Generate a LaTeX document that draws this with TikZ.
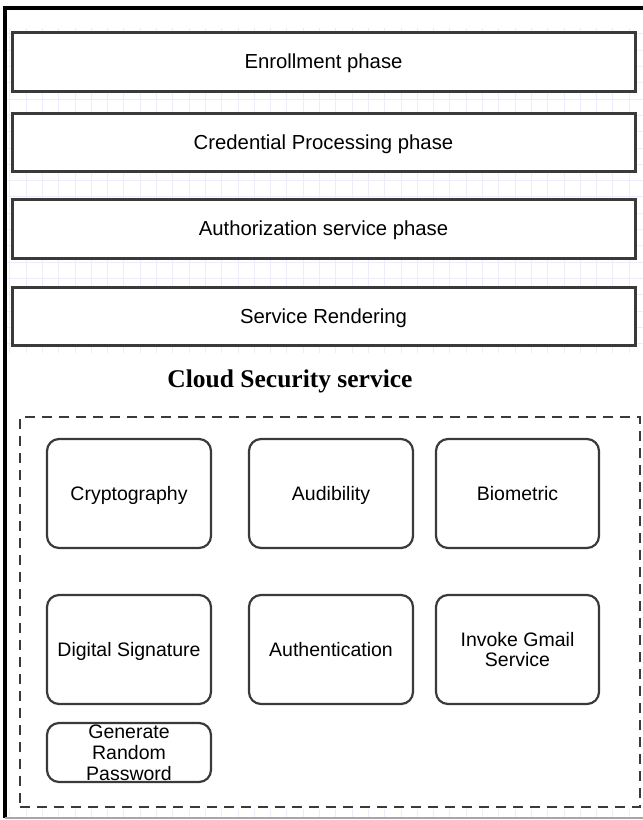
\documentclass[tikz,border=0pt]{standalone}
\usepackage{fontspec}
\setmainfont{Liberation Sans}
\newfontfamily\titlefont{Liberation Serif}
\definecolor{edge}{HTML}{3A3A3A}
\definecolor{gridc}{RGB}{236,236,252}

\begin{document}
\begin{tikzpicture}[x=1pt,y=-1pt,
  phase/.style={draw=edge, line width=3pt, fill=white, minimum width=623pt,
    inner sep=0pt, text depth=0pt, font=\fontsize{20.3}{22}\selectfont},
  svc/.style={draw=edge, line width=2.2pt, rounded corners=12pt, fill=white,
    minimum width=164pt, minimum height=109pt, inner sep=0pt, align=center,
    font=\fontsize{19.5}{20.8}\selectfont},
  gridline/.style={gridc, line width=0.7pt}]
\useasboundingbox (0,0) rectangle (643,820);

% faint canvas grid behind the phase bands
\begin{scope}
  \clip (5,28) rectangle (643,352);
  \foreach \i in {0,...,40} \draw[gridline] ({9.7+16.3*\i},0) -- ++(0,820);
  \foreach \j in {0,...,25} \draw[gridline] (0,{17.5+16.3*\j}) -- ++(643,0);
\end{scope}
\begin{scope}
  \clip (5,809) rectangle (643,817);
  \foreach \i in {0,...,40} \draw[gridline] ({9.7+16.3*\i},0) -- ++(0,820);
\end{scope}

% outer frame
\draw[black, line width=3.5pt] (5,818) -- (5,8) -- (643,8);
\draw[gray!70, line width=1.5pt] (5,818) -- (643,818);

% phases
\node[phase, minimum height=59pt] (enr)  at (323.5,61.5) {Enrollment phase};
\node[phase, minimum height=58pt] (cred) at (323.5,142)  {Credential Processing phase};
\node[phase, minimum height=59pt] (authz) at (323.5,228.5) {Authorization service phase};
\node[phase, minimum height=58pt] (rend) at (323.5,316)  {Service Rendering};

% cloud security services
\node[font=\titlefont\bfseries\fontsize{25.5}{28}\selectfont] (title) at (290,381) {Cloud Security service};
\node[draw=edge, dash pattern=on 10pt off 7pt, line width=2.5pt,
      minimum width=620pt, minimum height=390pt, inner sep=0pt] (cloud) at (330,612) {};

\node[svc, text depth=0pt] (crypt) at (129,493.5)   {Cryptography};
\node[svc, text depth=0pt] (aud)   at (331,493.5)   {Audibility};
\node[svc, minimum width=163pt] (bio) at (517.5,493.5) {Biometric};
\node[svc, text depth=0pt] (dsig)  at (129,649.5)   {Digital Signature};
\node[svc, text depth=0pt] (authn) at (331,649.5)   {Authentication};
\node[svc, minimum width=163pt] (gmail) at (517.5,649.5) {Invoke Gmail\\Service};
\node[svc, minimum height=59pt] (pwd) at (129,752.5) {Generate\\Random\\Password};
\end{tikzpicture}
\end{document}
